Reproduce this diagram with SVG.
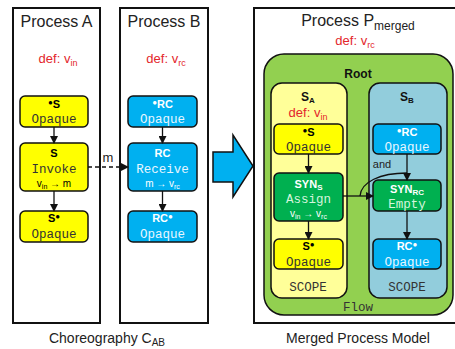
<svg xmlns="http://www.w3.org/2000/svg" width="455" height="349" viewBox="0 0 455 349">
<style>
.t{font-family:"Liberation Sans",Arial,sans-serif;fill:#222}
.ttl{font-size:16px;text-anchor:middle}
.cap{font-size:14px;text-anchor:middle}
.def{font-family:"Liberation Sans",Arial,sans-serif;font-size:13px;fill:#E3262B;text-anchor:middle}
.lb{font-family:"Liberation Sans",Arial,sans-serif;font-size:11px;font-weight:bold;text-anchor:middle}
.mono{font-family:"Liberation Mono","Courier New",monospace;font-size:12.5px;text-anchor:middle;fill:#333}
.sm{font-family:"Liberation Sans",Arial,sans-serif;font-size:10px;text-anchor:middle}
.yel{fill:#FFFF00;stroke:#111;stroke-width:1.5}
.blu{fill:#00B0F0;stroke:#111;stroke-width:1.5}
.grn{fill:#00B050;stroke:#111;stroke-width:1.5}
.box{fill:#fff;stroke:#111;stroke-width:2}
.ln{stroke:#111;stroke-width:1.3;fill:none}
</style>
<defs>
<marker id="ah" markerWidth="8" markerHeight="8" refX="7" refY="4" orient="auto" markerUnits="userSpaceOnUse">
<path d="M0,0 L8,4 L0,8 Z" fill="#111"/>
</marker>
</defs>

<!-- Process containers -->
<g id="processA">
<rect class="box" x="13" y="8" width="87" height="315"/>
<text class="t ttl" x="56.5" y="27">Process A</text>
<text class="def" x="58" y="63">def: v<tspan font-size="9" dy="3">in</tspan></text>
</g>
<g id="processB">
<rect class="box" x="120" y="8" width="88" height="315"/>
<text class="t ttl" x="164" y="27">Process B</text>
<text class="def" x="166" y="63">def: v<tspan font-size="9" dy="3">rc</tspan></text>
</g>
<g id="processMerged">
<rect class="box" x="254" y="8" width="204" height="315"/>
<text class="t ttl" x="358" y="26">Process P<tspan font-size="12" dy="4">merged</tspan></text>
<text class="def" x="355" y="45">def: v<tspan font-size="9" dy="3">rc</tspan></text>
</g>

<!-- Captions -->
<text class="t cap" x="107" y="343">Choreography C<tspan font-size="10" dy="3">AB</tspan></text>
<text class="t cap" x="358" y="343">Merged Process Model</text>

<!-- Big arrow -->
<g id="bigArrow">
<path d="M213,152 L233,152 L233,135 L253,166 L233,197 L233,182 L213,182 Z" fill="#00B0F0" stroke="#111" stroke-width="1.5"/>
</g>

<!-- Root / Flow -->
<g id="root">
<rect x="264" y="54" width="189" height="261" rx="20" fill="#92D050" stroke="#111" stroke-width="1.5"/>
<text class="lb" x="358" y="78" style="fill:#111;font-size:12px">Root</text>
<text class="mono" x="358" y="311">Flow</text>
</g>
<g id="scopeA">
<rect x="271" y="83" width="76" height="215" rx="11" fill="#FFFF99" stroke="#111" stroke-width="1.5"/>
<text class="lb" x="308" y="101" style="fill:#111;font-size:12px">S<tspan font-size="8" dy="2">A</tspan></text>
<text class="def" x="308" y="117">def: v<tspan font-size="9" dy="3">in</tspan></text>
<text class="mono" x="308" y="291">SCOPE</text>
</g>
<g id="scopeB">
<rect x="369" y="83" width="78" height="215" rx="11" fill="#92CDDC" stroke="#111" stroke-width="1.5"/>
<text class="lb" x="407" y="101" style="fill:#111;font-size:12px">S<tspan font-size="8" dy="2">B</tspan></text>
<text class="mono" x="407" y="291">SCOPE</text>
</g>

<!-- Process A nodes -->
<g id="A_S_start">
<rect class="yel" x="20" y="96" width="68" height="31" rx="5"/>
<text class="lb" x="54" y="108"><tspan font-size="8" dy="-3">●</tspan><tspan dy="3">S</tspan></text>
<text class="mono" x="54" y="123">Opaque</text>
</g>
<g id="A_invoke">
<rect class="yel" x="20" y="143" width="68" height="48" rx="5"/>
<text class="lb" x="54" y="157">S</text>
<text class="mono" x="54" y="173">Invoke</text>
<text class="sm" x="54" y="187">v<tspan font-size="7" dy="2">in</tspan><tspan dy="-2"> → m</tspan></text>
</g>
<g id="A_S_end">
<rect class="yel" x="20" y="211" width="68" height="31" rx="5"/>
<text class="lb" x="54" y="222">S<tspan font-size="8" dy="-3">●</tspan></text>
<text class="mono" x="54" y="238">Opaque</text>
</g>

<!-- Process B nodes -->
<g id="B_RC_start">
<rect class="blu" x="128" y="96" width="69" height="31" rx="5"/>
<text class="lb" x="162.5" y="108" style="fill:#fff"><tspan font-size="8" dy="-3">●</tspan><tspan dy="3">RC</tspan></text>
<text class="mono" x="162.5" y="123" style="fill:#E8F6FF">Opaque</text>
</g>
<g id="B_receive">
<rect class="blu" x="128" y="143" width="69" height="48" rx="5"/>
<text class="lb" x="162.5" y="157" style="fill:#fff">RC</text>
<text class="mono" x="162.5" y="173" style="fill:#E8F6FF">Receive</text>
<text class="sm" x="162.5" y="187" style="fill:#fff">m → v<tspan font-size="7" dy="2">rc</tspan></text>
</g>
<g id="B_RC_end">
<rect class="blu" x="128" y="211" width="69" height="31" rx="5"/>
<text class="lb" x="162.5" y="222" style="fill:#fff">RC<tspan font-size="8" dy="-3">●</tspan></text>
<text class="mono" x="162.5" y="238" style="fill:#E8F6FF">Opaque</text>
</g>

<!-- Merged nodes -->
<g id="M_S_start">
<rect class="yel" x="274" y="124" width="69" height="30" rx="5"/>
<text class="lb" x="308.5" y="136"><tspan font-size="8" dy="-3">●</tspan><tspan dy="3">S</tspan></text>
<text class="mono" x="308.5" y="151">Opaque</text>
</g>
<g id="M_SYN_S">
<rect class="grn" x="274" y="173" width="69" height="48" rx="5"/>
<text class="lb" x="308.5" y="188" style="fill:#fff">SYN<tspan font-size="8" dy="2">S</tspan></text>
<text class="mono" x="308.5" y="203" style="fill:#D6F5DD">Assign</text>
<text class="sm" x="308.5" y="217" style="fill:#fff">v<tspan font-size="7" dy="2">in</tspan><tspan dy="-2"> → v</tspan><tspan font-size="7" dy="2">rc</tspan></text>
</g>
<g id="M_S_end">
<rect class="yel" x="274" y="239" width="69" height="30" rx="5"/>
<text class="lb" x="308.5" y="250">S<tspan font-size="8" dy="-3">●</tspan></text>
<text class="mono" x="308.5" y="266">Opaque</text>
</g>
<g id="M_RC_start">
<rect class="blu" x="373" y="124" width="68" height="30" rx="5"/>
<text class="lb" x="407" y="136" style="fill:#fff"><tspan font-size="8" dy="-3">●</tspan><tspan dy="3">RC</tspan></text>
<text class="mono" x="407" y="151" style="fill:#E8F6FF">Opaque</text>
</g>
<g id="M_SYN_RC">
<rect class="grn" x="373" y="180" width="68" height="31" rx="5"/>
<text class="lb" x="407" y="193" style="fill:#fff">SYN<tspan font-size="8" dy="2">RC</tspan></text>
<text class="mono" x="407" y="208" style="fill:#D6F5DD">Empty</text>
</g>
<g id="M_RC_end">
<rect class="blu" x="373" y="239" width="68" height="30" rx="5"/>
<text class="lb" x="407" y="250" style="fill:#fff">RC<tspan font-size="8" dy="-3">●</tspan></text>
<text class="mono" x="407" y="266" style="fill:#E8F6FF">Opaque</text>
</g>

<!-- Connectors -->
<g id="connectors">
<line class="ln" x1="54" y1="127" x2="54" y2="143" marker-end="url(#ah)"/>
<line class="ln" x1="54" y1="191" x2="54" y2="211" marker-end="url(#ah)"/>
<line class="ln" x1="162.5" y1="127" x2="162.5" y2="143" marker-end="url(#ah)"/>
<line class="ln" x1="162.5" y1="191" x2="162.5" y2="211" marker-end="url(#ah)"/>
<line class="ln" x1="88" y1="167" x2="128" y2="167" stroke-dasharray="4,3" marker-end="url(#ah)"/>
<text class="t" x="108" y="162" font-size="13" text-anchor="middle">m</text>
<line class="ln" x1="308.5" y1="154" x2="308.5" y2="173" marker-end="url(#ah)"/>
<line class="ln" x1="308.5" y1="221" x2="308.5" y2="239" marker-end="url(#ah)"/>
<line class="ln" x1="407" y1="154" x2="407" y2="180" marker-end="url(#ah)"/>
<line class="ln" x1="407" y1="211" x2="407" y2="239" marker-end="url(#ah)"/>
<line class="ln" x1="343" y1="196" x2="373" y2="196" marker-end="url(#ah)"/>
<path class="ln" d="M360,196 C361,182 380,173 407,173" stroke-width="1"/>
<text class="t" x="382" y="168" font-size="11" text-anchor="middle">and</text>
</g>
</svg>
